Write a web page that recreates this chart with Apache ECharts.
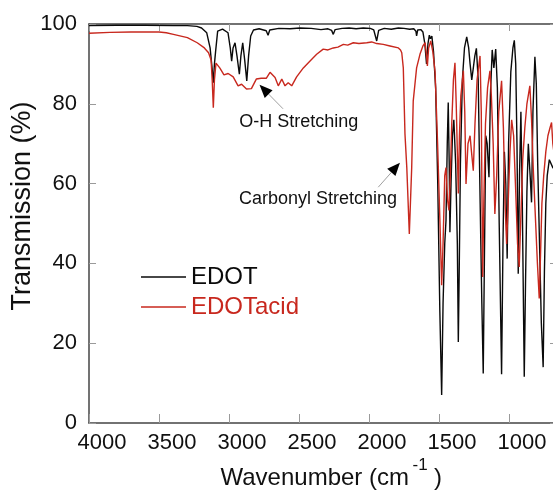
<!DOCTYPE html>
<html><head><meta charset="utf-8">
<script src="https://cdn.jsdelivr.net/npm/echarts@6/dist/echarts.min.js"></script>
<style>html,body{margin:0;padding:0;background:#fff;overflow:hidden}#c{width:553px;height:492px}</style>
</head><body><div id="c"></div>
<script>
// ---- data (wavenumber in cm-1, transmission in %) ----
const edotWn = [4000,3800,3600,3397,3297,3229,3196,3159,3135,3121,3112,3104,3096,3081,3046,3007,2991,2981,2971,2957,2943,2926,2915,2902,2888,2873,2860,2845,2825,2785,2734,2721,2709,2644,2564,2493,2413,2343,2293,2267,2255,2242,2192,2142,2092,2041,1991,1966,1945,1931,1891,1841,1790,1750,1710,1680,1665,1660,1652,1630,1615,1601,1589,1579,1569,1561,1551,1539,1524,1509,1494,1481,1471,1459,1450,1441,1434,1427,1422,1414,1404,1394,1381,1369,1362,1355,1347,1333,1318,1302,1288,1278,1266,1256,1244,1233,1220,1206,1194,1184,1176,1166,1156,1143,1133,1120,1108,1095,1083,1070,1053,1043,1033,1023,1013,1003,987,972,962,952,943,934,925,915,905,891,882,872,862,849,839,829,815,805,795,782,769,756,747,737,727,712,687,650];
const edotT  = [99.6,99.7,99.7,99.6,99.6,99.4,99.0,97.8,94,89,85.3,90,93,98.2,98.7,97.8,94,90.7,94,95.3,92,87.4,92,95.3,91,85.75,92,97,98.5,98.8,98.3,97.2,98.5,98.9,98.8,99.0,98.9,98.6,98.8,98.4,97.4,98.6,98.9,99.0,98.8,99.0,98.9,98.5,95.75,98.4,98.9,98.7,99.0,98.9,98.7,98.8,98.2,97.0,98.5,98.6,98.0,95,90,95,97.2,96.3,97.0,93,84,60,28,7,30,45,50.75,70,80.3,65,47.8,60,72,76,65,45,20.3,40,65,86,94,96.8,94,90,86,88.7,92,93.9,86,55,30,12.4,40,72,70,61.6,82,93.5,89,93.7,84,50,12.25,45,68,60,41.2,70,88,94,95.9,90,70,37.4,62,78,55,11.6,35,58,70,62,55.3,78,91.8,85,65,45,25,14,38,55,62,66,64,63];
const acidWn = [4000,3850,3700,3500,3448,3397,3297,3227,3176,3146,3128,3120,3112,3104,3093,3066,3036,3006,2970,2935,2910,2875,2840,2805,2770,2734,2707,2694,2671,2648,2623,2600,2577,2552,2517,2469,2421,2374,2327,2293,2255,2222,2183,2152,2112,2072,2016,1981,1945,1898,1850,1790,1775,1766,1755,1743,1730,1712,1695,1684,1660,1636,1615,1599,1589,1583,1574,1559,1544,1528,1510,1493,1481,1471,1459,1450,1439,1429,1419,1409,1397,1386,1377,1369,1362,1354,1344,1326,1316,1307,1293,1278,1268,1255,1243,1228,1207,1198,1188,1180,1168,1153,1136,1126,1113,1101,1088,1073,1053,1040,1028,1017,1006,993,981,967,952,939,927,915,902,887,872,851,839,827,812,797,784,775,765,752,737,722,707,696,687,650];
const acidT  = [97.7,97.9,98.0,98.0,97.8,97.4,96.6,95.3,94,92.8,91,86,79,86,90.2,89,87.25,87.6,86.75,84.5,84.9,83.7,83.8,86.2,86.4,86.4,87.9,87.6,86.6,84.5,86.2,84.5,85.3,84.5,86.75,89,90.75,92.4,93.7,93.5,94,94.2,94.9,94.7,95.3,95.1,95.3,95.5,95.1,94.9,94.5,94,93.5,92.8,89,72.4,64,47.4,64,80.75,89,92.4,94.5,95.3,92,89.5,94,95.75,93,88,70,50,34.5,45,62,64,56,53.25,62,75,86,90.3,80,68,57.5,72,82,88.25,78,59.9,70,72,68,63.25,75,86,92,78,36.6,55,75,84,88.25,82,70,52.4,62,78,85.75,74,55,44.9,55,68,76,72,58,45,39.1,52,66,74,80,84.5,76,64,52,40,31.2,42,55,62,68,72,74,75.3,70,60];
const xTicks = [4000,3500,3000,2500,2000,1500,1000];
const seriesNames = ['EDOT','EDOTacid'];
const annotations = [
  {text:'O-H Stretching',      label:[2501,75.5], tail:[2614,78.75], tip:[2782,84.75]},
  {text:'Carbonyl Stretching', label:[2364,56.1], tail:[1934,59.1],  tip:[1779,65.25]}
];

const FONT = "'Liberation Sans', Arial, Helvetica, sans-serif";
const RED = '#c8281e';
const BLACK = '#0a0a0a';
const AXIS = '#444444';
const TICK = '#9a9a9a';
const XMIN = 650, XMAX = 4000;

const chart = echarts.init(document.getElementById('c'), null, {renderer:'canvas'});
const pairs = (w, t) => w.map((v, i) => [v, t[i]]);

chart.setOption({
  animation: false,
  backgroundColor: '#ffffff',
  textStyle: {fontFamily: FONT},
  grid: {left: 89, top: 24, width: 469, height: 399, containLabel: false, outerBoundsMode: 'none', show: false},
  xAxis: [{
    type: 'value', inverse: true, min: XMIN, max: XMAX, position: 'bottom',
    axisLine: {show: true, onZero: false, lineStyle: {color: AXIS, width: 1.5}},
    axisTick: {show: true, inside: true, length: 9, customValues: xTicks, lineStyle: {color: TICK, width: 1}},
    axisLabel: {show: true, customValues: xTicks, formatter: v => String(v), fontSize: 22, color: '#111', fontFamily: FONT, margin: 9, padding: [0,0,0,26]},
    splitLine: {show: false}
  }, {
    type: 'value', inverse: true, min: XMIN, max: XMAX, position: 'top',
    axisLine: {show: true, onZero: false, lineStyle: {color: AXIS, width: 1.5}},
    axisTick: {show: true, inside: true, length: 7, customValues: xTicks, lineStyle: {color: TICK, width: 1}},
    axisLabel: {show: false}, splitLine: {show: false}
  }],
  yAxis: [{
    type: 'value', min: 0, max: 100, interval: 20, position: 'left',
    axisLine: {show: true, onZero: false, lineStyle: {color: AXIS, width: 1.5}},
    axisTick: {show: true, inside: true, length: 7, lineStyle: {color: TICK, width: 1}},
    axisLabel: {fontSize: 22, color: '#111', fontFamily: FONT, margin: 12, padding: [0,0,6,0]},
    splitLine: {show: false}
  }, {
    type: 'value', min: 0, max: 100, interval: 20, position: 'right',
    axisLine: {show: true, onZero: false, lineStyle: {color: AXIS, width: 1.5}},
    axisTick: {show: true, inside: true, length: 8, lineStyle: {color: TICK, width: 1}},
    axisLabel: {show: false}, splitLine: {show: false}
  }],
  legend: {
    orient: 'vertical', left: 141, top: 265, padding: 0, itemWidth: 45, itemHeight: 1.6, itemGap: 6,
    icon: 'rect', selectedMode: false,
    textStyle: {fontSize: 24, fontFamily: FONT},
    data: [{name: seriesNames[0], textStyle: {color: BLACK}}, {name: seriesNames[1], textStyle: {color: RED}}]
  },
  series: [{
    name: seriesNames[0], type: 'line', data: pairs(edotWn, edotT), symbol: 'none', showSymbol: false,
    lineStyle: {color: BLACK, width: 1.4}, itemStyle: {color: BLACK}, xAxisIndex: 0, yAxisIndex: 0
  }, {
    name: seriesNames[1], type: 'line', data: pairs(acidWn, acidT), symbol: 'none', showSymbol: false,
    lineStyle: {color: RED, width: 1.4}, itemStyle: {color: RED}, xAxisIndex: 0, yAxisIndex: 0
  }]
});

const px = p => chart.convertToPixel({xAxisIndex: 0, yAxisIndex: 0}, p);
const g = [];
annotations.forEach(a => {
  const tail = px(a.tail), tip = px(a.tip), lab = px(a.label);
  const dx = tip[0]-tail[0], dy = tip[1]-tail[1], L = Math.hypot(dx, dy);
  const ux = dx/L, uy = dy/L, hl = 13, hw = 5.5;
  const bx = tip[0]-ux*hl, by = tip[1]-uy*hl;
  g.push({type: 'line', shape: {x1: tail[0], y1: tail[1], x2: bx, y2: by}, style: {stroke: '#a0a0a0', lineWidth: 1}, z: 10});
  g.push({type: 'polygon', shape: {points: [tip, [bx-uy*hw, by+ux*hw], [bx+uy*hw, by-ux*hw]]}, style: {fill: '#000'}, z: 10});
  g.push({type: 'text', x: lab[0], y: lab[1], z: 10,
    style: {text: a.text, font: "18px " + FONT, fill: '#111', align: 'center', verticalAlign: 'middle', textAlign: 'center', textVerticalAlign: 'middle'}});
});
// axis titles
g.push({type: 'text', x: 23, y: 206, rotation: Math.PI/2, z: 10,
  style: {text: 'Transmission (%)', font: "27px " + FONT, fill: '#111', align: 'center', verticalAlign: 'middle', textAlign: 'center', textVerticalAlign: 'middle'}});
g.push({type: 'text', x: 220.5, y: 478, z: 10,
  style: {text: 'Wavenumber (cm', font: "24px " + FONT, fill: '#111', align: 'left', verticalAlign: 'middle', textAlign: 'left', textVerticalAlign: 'middle'}});
g.push({type: 'text', x: 412.5, y: 465.5, z: 10,
  style: {text: '-1', font: "17px " + FONT, fill: '#111', align: 'left', verticalAlign: 'middle', textAlign: 'left', textVerticalAlign: 'middle'}});
g.push({type: 'text', x: 434, y: 478, z: 10,
  style: {text: ')', font: "24px " + FONT, fill: '#111', align: 'left', verticalAlign: 'middle', textAlign: 'left', textVerticalAlign: 'middle'}});
chart.setOption({graphic: {elements: g}});
</script>
</body></html>
